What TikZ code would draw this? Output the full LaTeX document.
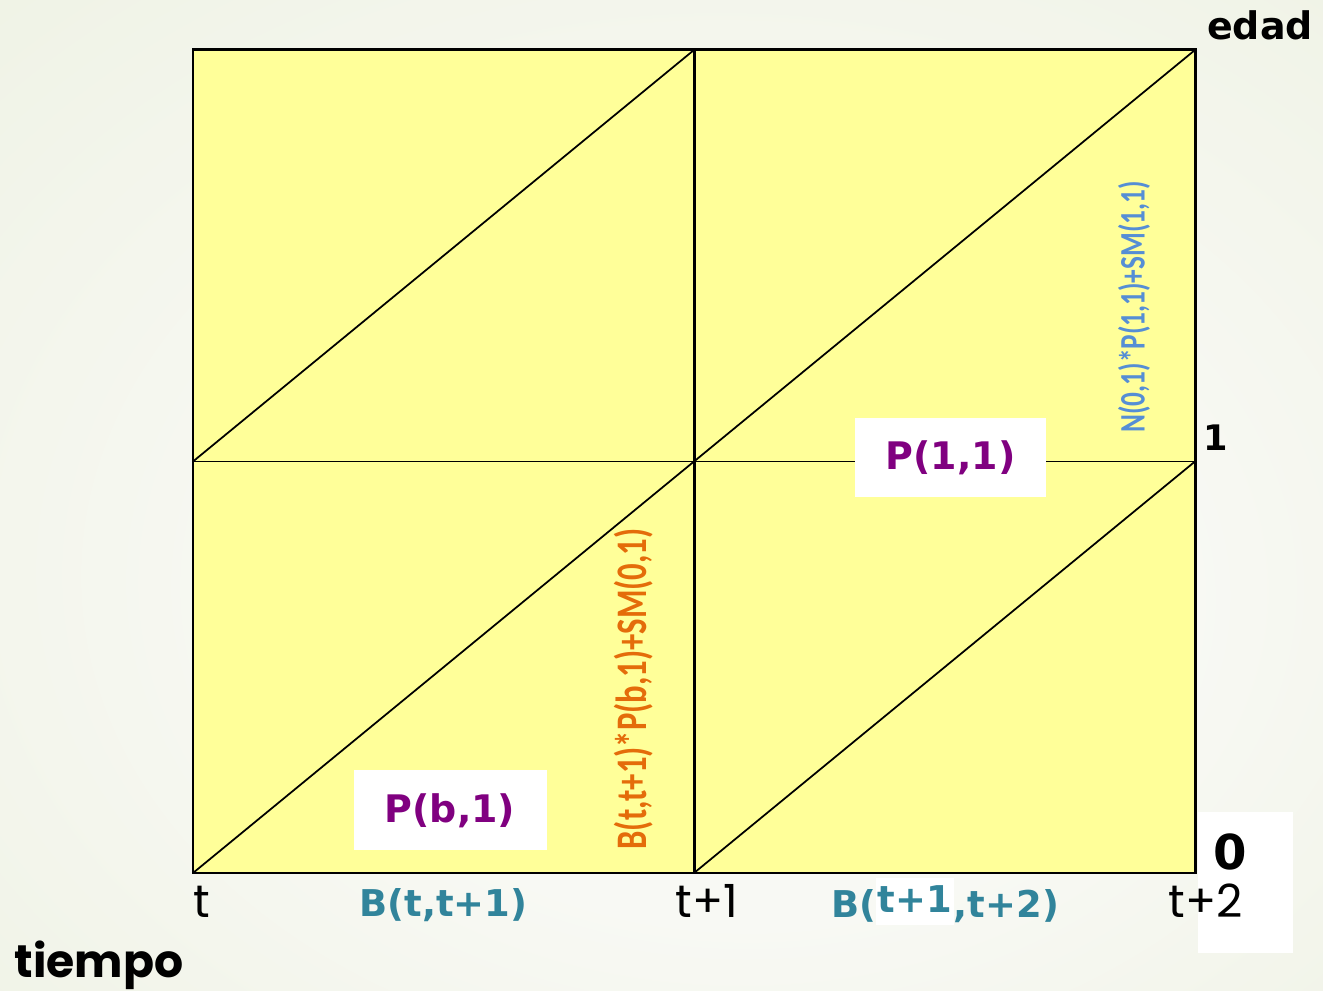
\documentclass[tikz,border=0pt]{standalone}
\usepackage{fontspec}
\setmainfont{DejaVu Sans}
\newfontfamily\calibri{Carlito}
\newfontfamily\gothic{Poppins}
\usepackage{xcolor}
\usepackage{graphicx}
\usetikzlibrary{positioning}
\definecolor{cellyellow}{HTML}{FFFF99}
\definecolor{bginner}{HTML}{F8F9F4}
\definecolor{bgouter}{HTML}{EBEFDE}
\definecolor{tealB}{HTML}{31849B}
\definecolor{purpleP}{HTML}{800080}
\definecolor{orangeL}{HTML}{E46C0A}
\definecolor{blueL}{HTML}{558ED5}
\pgfdeclareradialshading{paper}{\pgfpoint{5bp}{-8bp}}{color(0bp)=(bginner); color(16bp)=(bginner); color(50bp)=(bgouter)}

\begin{document}
\begin{tikzpicture}[x=1cm, y=1cm,
  every node/.style={inner sep=0pt, outer sep=0pt},
  frame/.style={line width=0.85pt},
  thin/.style={line width=0.5pt},
  axislab/.style={font=\fontsize{10.8}{12}\selectfont\bfseries},
  ticklab/.style={font=\gothic\fontsize{13}{15}\selectfont, anchor=base},
  blab/.style={font=\fontsize{10.5}{12}\selectfont\bfseries, text=tealB, anchor=base},
  plab/.style={font=\fontsize{10.8}{12}\selectfont\bfseries, text=purpleP, fill=white,
    minimum width=1.93cm, minimum height=0.8cm},
  vlab/.style={rotate=90, font=\calibri\bfseries\fontsize{12.4}{14}\selectfont}]
  \def\xa{1.93} \def\xb{6.94} \def\xc{11.95}
  \def\ya{1.18} \def\yb{5.295} \def\yc{9.41}
  \def\w{5.01} \def\h{4.115}
  \useasboundingbox (0,0) rectangle (13.23,9.91);
  \shade[shading=paper] (0,0) rectangle (13.23,9.91);

  % cells
  \fill[cellyellow] (\xa,\ya) rectangle (\xc,\yc);
  \draw[thin] (\xa,\yb) -- (\xc,\yb);
  \foreach \x/\y in {\xa/\ya, \xb/\ya, \xa/\yb, \xb/\yb}
    \draw[thin] (\x,\y) -- ++(\w,\h);
  \draw[frame] (\xa,\ya) rectangle (\xc,\yc);
  \draw[frame] (\xb,\ya) -- (\xb,\yc);
  \fill[white] (11.98,0.38) rectangle (12.93,1.79);

  % axis labels
  \node[axislab] (edad) at (12.60,9.66) {edad};
  \node[axislab, font=\fontsize{10}{12}\selectfont\bfseries] (one) at (12.16,5.53) {1};
  \node[axislab, font=\fontsize{13.7}{15}\selectfont\bfseries] (zero) at (12.30,1.39) {0};
  \node[ticklab] (t0) at (2.02,0.73) {t};
  \node[ticklab] (t1) at (7.07,0.73) {t+1};
  \node[ticklab] (t2) at (12.06,0.73) {t+2};
  \node[ticklab, font=\gothic\bfseries\fontsize{13}{15}\selectfont] (tiempo) at (0.99,0.13) {tiempo};

  % births
  \node[blab] (births1) at (4.435,0.74) {B(t,t+1)};
  \node[blab] (births2) at (9.45,0.73)
    {B(\setlength{\fboxsep}{0.5pt}\raisebox{1.5pt}{\colorbox{white}{\rule[-3pt]{0pt}{12.5pt}t+1}},t+2)};

  % probabilities
  \node[plab] (pb) at (4.50,1.805) {P(b,1)};
  \node[plab, minimum width=1.91cm, minimum height=0.79cm] (p11) at (9.505,5.335) {P(1,1)};

  % survivors
  \node[vlab, text=orangeL] (surv0) at (6.34,3.02)
    {\scalebox{0.75}[1]{B(t,t+1)*P(b,1)+SM(0,1)}};
  \node[vlab, text=blueL, font=\calibri\bfseries\fontsize{10.2}{12}\selectfont] (surv1) at (11.34,6.84)
    {\scalebox{0.76}[1]{N(0,1)*P(1,1)+SM(1,1)}};
\end{tikzpicture}
\end{document}
